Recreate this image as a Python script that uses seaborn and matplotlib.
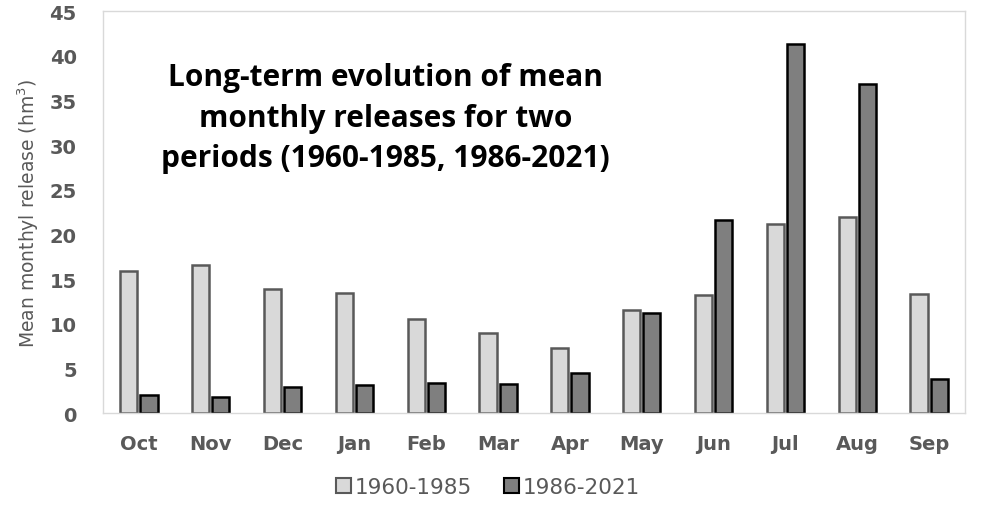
import pandas as pd
import matplotlib.pyplot as plt
import seaborn as sns
from matplotlib.patches import Patch

months = ['Oct', 'Nov', 'Dec', 'Jan', 'Feb', 'Mar', 'Apr', 'May', 'Jun', 'Jul', 'Aug', 'Sep']
early = [15.9, 16.6, 13.9, 13.4, 10.5, 8.9, 7.3, 11.5, 13.2, 21.2, 21.9, 13.3]
late = [2.0, 1.8, 2.9, 3.1, 3.4, 3.2, 4.5, 11.2, 21.6, 41.3, 36.8, 3.8]
periods = ['1960-1985', '1986-2021']

# long format for seaborn
df = pd.DataFrame({'month': months * 2,
                   'release': early + late,
                   'period': [periods[0]] * 12 + [periods[1]] * 12})

sns.set_style('white')
fill = ['#d9d9d9', '#7f7f7f']
edges = ['#595959', '#000000']

fig, ax = plt.subplots(figsize=(9.82, 5.06), dpi=100)
fig.subplots_adjust(left=103/982, right=965/982, top=1-12/506, bottom=1-414/506)

sns.barplot(data=df, x='month', y='release', hue='period', palette=fill,
            width=0.56, gap=0.15, ax=ax, legend=False)
for cont, ec in zip(ax.containers, edges):
    for bar in cont:
        bar.set_edgecolor(ec)
        bar.set_linewidth(1.8)

ax.set_ylim(0, 45)
ax.set_xlim(-0.5, 11.5)
ax.set_yticks(range(0, 46, 5))
for s in ax.spines.values():
    s.set_color('#d9d9d9')
    s.set_linewidth(1)
ax.tick_params(axis='y', length=0, pad=19, labelsize=14, labelcolor='#595959')
ax.tick_params(axis='x', length=0, pad=15, labelsize=14, labelcolor='#595959')
for lab in ax.get_xticklabels() + ax.get_yticklabels():
    lab.set_fontweight('bold')
ax.set_xlabel('')
ax.set_ylabel('Mean monthyl release (hm$^3$)', fontsize=13.5, color='#595959', labelpad=6)

ax.text(0.328, 0.735, 'Long-term evolution of mean\nmonthly releases for two\nperiods (1960-1985, 1986-2021)',
        transform=ax.transAxes, ha='center', va='center', fontsize=21.5,
        fontweight='bold', family='Open Sans', linespacing=1.45, color='black')

handles = [Patch(facecolor=f, edgecolor=e, linewidth=1.5) for f, e in zip(fill, edges)]
fig.legend(handles, periods, loc='center', bbox_to_anchor=(488/982, 1-488/506), ncol=2,
           frameon=False, fontsize=15.5, labelcolor='#595959', handlelength=0.7,
           handleheight=0.7, handletextpad=0.15, columnspacing=1.5)

plt.savefig('out.png', dpi=100)
